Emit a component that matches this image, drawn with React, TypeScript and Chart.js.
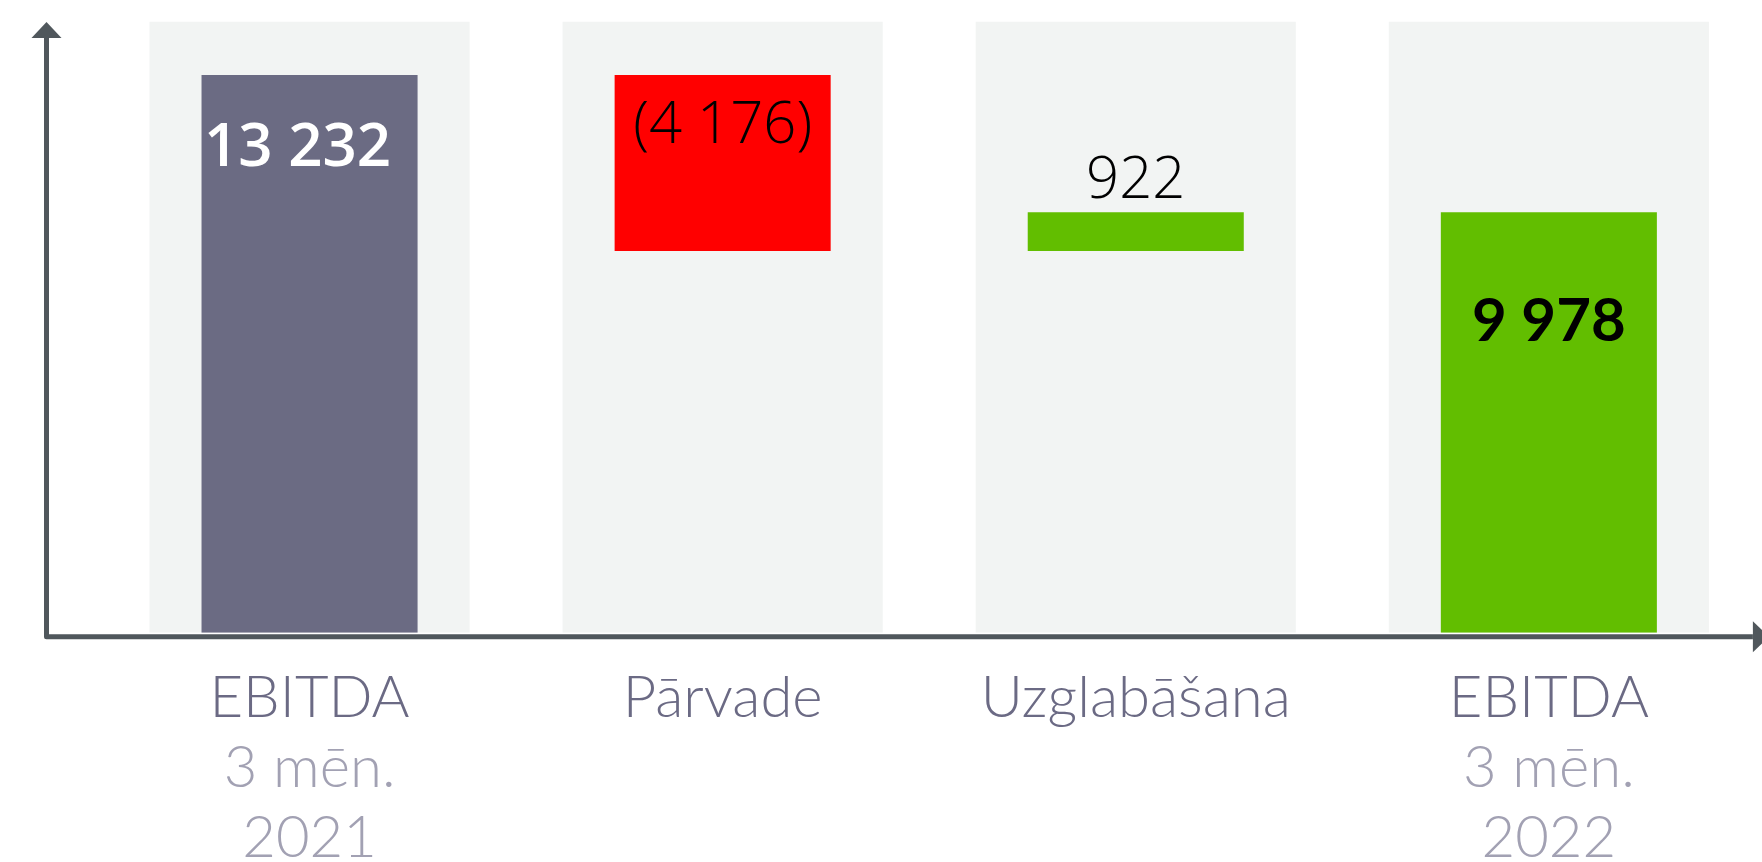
import React, { useEffect, useRef } from "react";
import { Chart, registerables } from "chart.js";

Chart.register(...registerables);

// ---- data ----
const categories = ["EBITDA 3 mēn. 2021", "Pārvade", "Uzglabāšana", "EBITDA 3 mēn. 2022"];
const labelLines = [["EBITDA", "3 mēn.", "2021"], ["Pārvade"], ["Uzglabāšana"], ["EBITDA", "3 mēn.", "2022"]];
const steps = [13232, -4176, 922, 9978];
const isTotal = [true, false, false, true];
const valueLabels = ["13 232", "(4 176)", "922", "9 978"];
const Y_MAX = 14500;

// ---- styles ----
const barColors = ["#6b6b83", "#ff0000", "#62be00", "#62be00"];
const bandColor = "#f2f4f3";
const axisColor = "#50575c";

function buildRanges(): [number, number][] {
  let running = 0;
  return steps.map((v, i) => {
    if (isTotal[i]) {
      running = v;
      return [0, v];
    }
    const s = running;
    running += v;
    return [Math.min(s, running), Math.max(s, running)];
  });
}

const valueStyles = [
  { font: "600 60px 'Open Sans'", color: "#ffffff", dy: 91, dx: -12 },
  { font: "300 58px 'Open Sans'", color: "#000000", dy: 68, dx: 0 },
  { font: "300 58px 'Open Sans'", color: "#000000", dy: -14, dx: 0 },
  { font: "700 60px Lato", color: "#000000", dy: 129, dx: 0 },
];

const decorPlugin = {
  id: "decor",
  afterDraw(chart: any) {
    const ctx = chart.ctx as CanvasRenderingContext2D;
    const area = chart.chartArea;
    const xs = chart.scales.x;
    const ys = chart.scales.y;
    const ranges = chart.data.datasets[0].data as [number, number][];

    // axes
    const axX = area.left - 56.5;
    const axY = area.bottom + 4;
    const topTip = area.top + 0.5;
    const topBase = topTip + 16;
    const rightBase = area.right - 2.5;
    ctx.save();
    ctx.strokeStyle = axisColor;
    ctx.fillStyle = axisColor;
    ctx.lineWidth = 5;
    ctx.lineJoin = "round";
    ctx.beginPath();
    ctx.moveTo(axX, topBase);
    ctx.lineTo(axX, axY);
    ctx.lineTo(rightBase, axY);
    ctx.stroke();
    ctx.beginPath();
    ctx.moveTo(axX, topTip);
    ctx.lineTo(axX - 15, topBase);
    ctx.lineTo(axX + 15, topBase);
    ctx.closePath();
    ctx.fill();
    ctx.beginPath();
    ctx.moveTo(rightBase + 16, axY);
    ctx.lineTo(rightBase, axY - 15.5);
    ctx.lineTo(rightBase, axY + 15.5);
    ctx.closePath();
    ctx.fill();

    // value labels
    ctx.textAlign = "center";
    ctx.textBaseline = "alphabetic";
    ranges.forEach((r, i) => {
      const st = valueStyles[i];
      const cx = xs.getPixelForValue(i) + st.dx;
      const topPx = ys.getPixelForValue(Math.max(r[0], r[1]));
      ctx.font = st.font;
      ctx.fillStyle = st.color;
      ctx.fillText(valueLabels[i], cx, topPx + st.dy);
    });

    // category labels
    labelLines.forEach((lines, i) => {
      const cx = xs.getPixelForValue(i);
      lines.forEach((t, j) => {
        ctx.font = "300 58px Lato";
        ctx.fillStyle = j === 0 ? "#6b6a84" : "#a2a1b3";
        ctx.fillText(t, cx, area.bottom + 84 + j * 70);
      });
    });
    ctx.restore();
  },
};

export default function App() {
  const ref = useRef<HTMLCanvasElement | null>(null);
  useEffect(() => {
    document.body.style.margin = "0";
    const canvas = ref.current!;
    const chart = new Chart(canvas, {
      type: "bar",
      data: {
        labels: categories,
        datasets: [
          {
            label: "main",
            data: buildRanges() as any,
            backgroundColor: barColors,
            borderWidth: 0,
            barPercentage: 0.523,
            categoryPercentage: 1,
            grouped: false,
            order: 1,
          } as any,
          {
            label: "band",
            data: categories.map(() => [0, Y_MAX]) as any,
            backgroundColor: bandColor,
            borderWidth: 0,
            barPercentage: 0.775,
            categoryPercentage: 1,
            grouped: false,
            order: 2,
          } as any,
        ],
      },
      options: {
        responsive: false,
        maintainAspectRatio: false,
        animation: false,
        layout: { padding: { left: 103, right: 6.6, top: 21.6, bottom: 229.3 } },
        scales: {
          x: { display: false },
          y: { display: false, min: 0, max: Y_MAX },
        },
        plugins: { legend: { display: false }, tooltip: { enabled: false } },
      },
      plugins: [decorPlugin],
    });
    return () => chart.destroy();
  }, []);
  return (
    <div style={{ width: 1762, height: 862 }}>
      <canvas ref={ref} width={1762} height={862} style={{ display: "block" }} />
    </div>
  );
}
